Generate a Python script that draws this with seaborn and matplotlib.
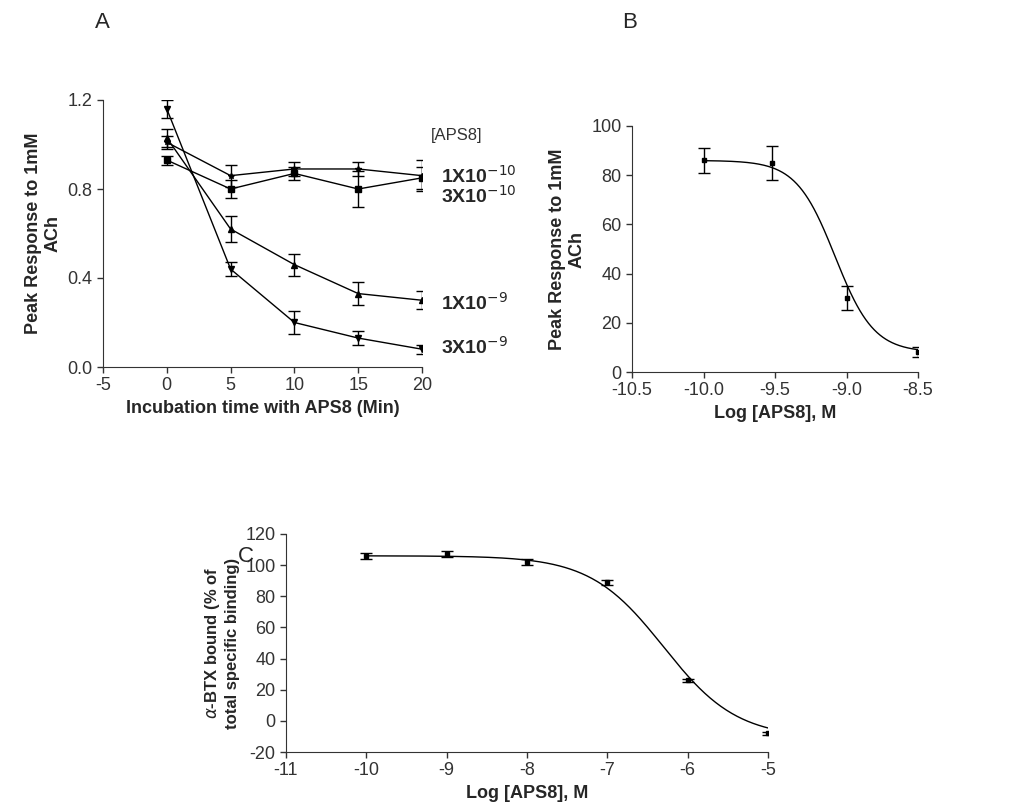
import numpy as np
import matplotlib
matplotlib.use("Agg")
import matplotlib.pyplot as plt
import seaborn as sns

sns.set_style("ticks")
plt.rcParams.update({"font.family": "Liberation Sans", "font.size": 12,
                     "axes.unicode_minus": False})

# Panel A data
time_min = [0, 5, 10, 15, 20]
resp_1e10 = [1.01, 0.86, 0.89, 0.89, 0.86]
err_1e10 = [0.03, 0.05, 0.03, 0.03, 0.07]
resp_3e10 = [0.93, 0.80, 0.87, 0.80, 0.85]
err_3e10 = [0.02, 0.04, 0.03, 0.08, 0.05]
resp_1e9 = [1.03, 0.62, 0.46, 0.33, 0.30]
err_1e9 = [0.04, 0.06, 0.05, 0.05, 0.04]
resp_3e9 = [1.16, 0.44, 0.20, 0.13, 0.08]
err_3e9 = [0.04, 0.03, 0.05, 0.03, 0.02]
series_labels = ["1X10$^{-10}$", "3X10$^{-10}$", "1X10$^{-9}$", "3X10$^{-9}$"]

# Panel B data
log_conc_b = [-10.0, -9.52, -9.0, -8.5]
resp_b = [86, 85, 30, 8]
err_b = [5, 7, 5, 2]
fit_b = dict(top=86, bottom=8, logic50=-9.08, hill=-3.2)

# Panel C data
log_conc_c = [-10, -9, -8, -7, -6, -5]
bound_c = [106, 107, 102, 89, 26, -8]
err_c = [2, 2, 2, 1.5, 1, 1]
fit_c = dict(top=106, bottom=-11, logic50=-6.3, hill=-0.95)


def sigmoid(x, p):
    return p["bottom"] + (p["top"] - p["bottom"]) / (1 + 10 ** ((x - p["logic50"]) * -p["hill"]))


def style(ax):
    sns.despine(ax=ax)
    ax.tick_params(direction="out", length=4, width=1, labelsize=13, colors="#333333")
    for s in ["left", "bottom"]:
        ax.spines[s].set_color("#333333")


fig = plt.figure(figsize=(10.24, 8.05), dpi=100)
W, H = 1024, 805


def add_axes(x0, y0, x1, y1):
    return fig.add_axes([x0 / W, 1 - y1 / H, (x1 - x0) / W, (y1 - y0) / H])


# ---- A
axA = add_axes(103, 100, 422, 367)
markers = ["*", "s", "^", "v"]
all_resp = [resp_1e10, resp_3e10, resp_1e9, resp_3e9]
all_err = [err_1e10, err_3e10, err_1e9, err_3e9]
for y, e, m in zip(all_resp, all_err, markers):
    axA.errorbar(time_min, y, yerr=e, color="black", lw=1, marker=m, ms=4,
                 capsize=4, elinewidth=1)
axA.set_xlim(-5, 20)
axA.set_ylim(0, 1.2)
axA.set_xticks([-5, 0, 5, 10, 15, 20])
axA.set_yticks([0.0, 0.4, 0.8, 1.2])
axA.set_yticklabels(["0.0", "0.4", "0.8", "1.2"])
axA.set_xlabel("Incubation time with APS8 (Min)", fontweight="bold", fontsize=13)
axA.set_ylabel("Peak Response to 1mM\nACh", fontweight="bold", fontsize=13)
axA.text(20.7, 1.02, "[APS8]", fontsize=12, color="#333333")
label_y = [0.86, 0.77, 0.29, 0.09]
for lab, ly in zip(series_labels, label_y):
    axA.text(21.5, ly, lab, fontsize=14, fontweight="bold", va="center")
style(axA)

# ---- B
axB = add_axes(632, 126, 918, 372)
xb = np.linspace(-10, -8.5, 300)
axB.plot(xb, sigmoid(xb, fit_b), color="black", lw=1)
axB.errorbar(log_conc_b, resp_b, yerr=err_b, fmt="s", color="black", ms=3,
             capsize=4, elinewidth=1)
axB.set_xlim(-10.5, -8.5)
axB.set_ylim(0, 100)
axB.set_xticks([-10.5, -10.0, -9.5, -9.0, -8.5])
axB.set_xticklabels(["-10.5", "-10.0", "-9.5", "-9.0", "-8.5"])
axB.set_yticks(range(0, 101, 20))
axB.set_xlabel("Log [APS8], M", fontweight="bold", fontsize=13)
axB.set_ylabel("Peak Response to 1mM\nACh", fontweight="bold", fontsize=13)
style(axB)

# ---- C
axC = add_axes(286, 534, 768, 752)
xc = np.linspace(-10, -5, 300)
axC.plot(xc, sigmoid(xc, fit_c), color="black", lw=1)
axC.errorbar(log_conc_c, bound_c, yerr=err_c, fmt="s", color="black", ms=3,
             capsize=4, elinewidth=1)
axC.set_xlim(-11, -5)
axC.set_ylim(-20, 120)
axC.set_xticks(range(-11, -4))
axC.set_yticks(range(-20, 121, 20))
axC.set_xlabel("Log [APS8], M", fontweight="bold", fontsize=13)
axC.set_ylabel(r"$\alpha$-BTX bound (% of" "\n" "total specific binding)",
               fontweight="bold", fontsize=12)
style(axC)

fig.text(95 / W, 1 - 22 / H, "A", fontsize=16, va="center")
fig.text(622 / W, 1 - 22 / H, "B", fontsize=16, va="center")
fig.text(238 / W, 1 - 556 / H, "C", fontsize=16, va="center")

fig.savefig("out.png", dpi=100)
